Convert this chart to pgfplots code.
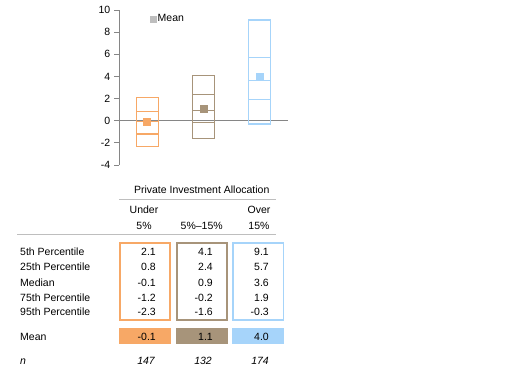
\documentclass[border=0pt]{standalone}
\usepackage{fontspec}
\setmainfont{Liberation Sans}
\usepackage{pgfplots}
\pgfplotsset{compat=1.18}
\definecolor{corange}{RGB}{247,168,102}
\definecolor{cbrown}{RGB}{167,148,122}
\definecolor{cblue}{RGB}{166,212,250}
\definecolor{axgray}{RGB}{134,134,134}
\definecolor{rulegray}{RGB}{190,190,190}
\definecolor{leggray}{RGB}{190,190,190}
\begin{document}
\fontsize{10.5}{12.6}\selectfont
\begin{tikzpicture}
\path[use as bounding box] (0pt,0pt) rectangle (515pt,-381pt);
\begin{axis}[
  at={(119pt,-165pt)}, anchor=south west,
  scale only axis, width=169pt, height=155pt,
  xmin=0.5, xmax=3.5, ymin=-4, ymax=10,
  axis x line=none, axis y line*=left,
  y axis line style={axgray, line width=0.8pt, -},
  ytick={-4,-2,0,2,4,6,8,10},
  yticklabels={-4,-2,0,2,4,6,8,10},
  tick align=outside, major tick length=5pt,
  ytick style={axgray, line width=0.8pt},
  yticklabel style={font=\fontsize{10.5}{12}\selectfont, text=black},
  clip=false,
  legend style={at={(axis cs:1.05,9.19)}, anchor=west, draw=none, fill=none,
    font=\fontsize{10.5}{12}\selectfont, inner sep=0pt,
    nodes={inner sep=1.5pt}},
  legend image code/.code={\draw[#1] plot coordinates {(3pt,0pt)};},
]
% zero line
\addplot[axgray, line width=0.8pt, forget plot] coordinates {(0.5,0) (3.5,0)};
% Under 5%: 5th=2.1, 25th=0.8, median=-0.1, 75th=-1.2, 95th=-2.3
\addplot[corange, line width=1.1pt, line cap=rect, forget plot] coordinates {(0.805,-2.3) (1.195,-2.3) (1.195,2.1) (0.805,2.1) (0.805,-2.3)};
\addplot[corange, line width=1.1pt, forget plot] coordinates {(0.805,0.8) (1.195,0.8)};
\addplot[corange, line width=1.1pt, forget plot] coordinates {(0.805,-0.1) (1.195,-0.1)};
\addplot[corange, line width=1.1pt, forget plot] coordinates {(0.805,-1.2) (1.195,-1.2)};
% 5%-15%: 4.1, 2.4, 0.9, -0.2, -1.6
\addplot[cbrown, line width=1.1pt, line cap=rect, forget plot] coordinates {(1.805,-1.6) (2.195,-1.6) (2.195,4.1) (1.805,4.1) (1.805,-1.6)};
\addplot[cbrown, line width=1.1pt, forget plot] coordinates {(1.805,2.4) (2.195,2.4)};
\addplot[cbrown, line width=1.1pt, forget plot] coordinates {(1.805,0.9) (2.195,0.9)};
\addplot[cbrown, line width=1.1pt, forget plot] coordinates {(1.805,-0.2) (2.195,-0.2)};
% Over 15%: 9.1, 5.7, 3.6, 1.9, -0.3
\addplot[cblue, line width=1.1pt, line cap=rect, forget plot] coordinates {(2.805,-0.3) (3.195,-0.3) (3.195,9.1) (2.805,9.1) (2.805,-0.3)};
\addplot[cblue, line width=1.1pt, forget plot] coordinates {(2.805,5.7) (3.195,5.7)};
\addplot[cblue, line width=1.1pt, forget plot] coordinates {(2.805,3.6) (3.195,3.6)};
\addplot[cblue, line width=1.1pt, forget plot] coordinates {(2.805,1.9) (3.195,1.9)};
% means
\addplot[only marks, mark=square*, mark size=3.5pt, color=corange, forget plot] coordinates {(1,-0.1)};
\addplot[only marks, mark=square*, mark size=3.5pt, color=cbrown, forget plot] coordinates {(2,1.1)};
\addplot[only marks, mark=square*, mark size=3.5pt, color=cblue, forget plot] coordinates {(3,4.0)};
\addlegendimage{only marks, mark=square*, mark size=3pt, color=leggray}
\addlegendentry{Mean}
\end{axis}
% table
\node[anchor=base, inner sep=0pt] at (201.7pt,-193.8pt) {Private Investment Allocation};
\draw[rulegray, line width=1pt] (119pt,-199.3pt) -- (276pt,-199.3pt);
\node[anchor=base, inner sep=0pt] at (144pt,-213.8pt) {Under};
\node[anchor=base, inner sep=0pt] at (144pt,-229.5pt) {5\%};
\node[anchor=base, inner sep=0pt] at (201.7pt,-229.5pt) {5\%–15\%};
\node[anchor=base, inner sep=0pt] at (259pt,-213.8pt) {Over};
\node[anchor=base, inner sep=0pt] at (259pt,-229.5pt) {15\%};
\draw[rulegray, line width=1pt] (17pt,-234.3pt) -- (276pt,-234.3pt);
% boxes
\draw[corange, line width=1.8pt] (119.6pt,-242.6pt) rectangle (169.8pt,-319.8pt);
\draw[cbrown, line width=1.8pt] (176.6pt,-242.6pt) rectangle (226.8pt,-319.8pt);
\draw[cblue, line width=1.8pt] (233.2pt,-242.6pt) rectangle (283.4pt,-319.8pt);
\fill[corange] (118.7pt,-328.3pt) rectangle (170.7pt,-344.3pt);
\fill[cbrown] (175.7pt,-328.3pt) rectangle (227.7pt,-344.3pt);
\fill[cblue] (232.3pt,-328.3pt) rectangle (284.3pt,-344.3pt);
% row labels
\foreach \lab/\yy in {5th Percentile/255, 25th Percentile/270.5, Median/286, 75th Percentile/301.8, 95th Percentile/315.8, Mean/340.5}
  \node[anchor=base west, inner sep=0pt] at (20pt,-\yy pt) {\lab};
\node[anchor=base west, inner sep=0pt] at (20pt,-364.5pt) {\itshape n};
% values
\foreach \a/\b/\c/\yy in {2.1/4.1/9.1/255, 0.8/2.4/5.7/270.5, -0.1/0.9/3.6/286, -1.2/-0.2/1.9/301.8, -2.3/-1.6/-0.3/315.8, -0.1/1.1/4.0/340.5}{
  \node[anchor=base east, inner sep=0pt] at (156pt,-\yy pt) {\a};
  \node[anchor=base east, inner sep=0pt] at (213pt,-\yy pt) {\b};
  \node[anchor=base east, inner sep=0pt] at (269pt,-\yy pt) {\c};
}
\node[anchor=base east, inner sep=0pt] at (155pt,-364.5pt) {\itshape 147};
\node[anchor=base east, inner sep=0pt] at (212pt,-364.5pt) {\itshape 132};
\node[anchor=base east, inner sep=0pt] at (269pt,-364.5pt) {\itshape 174};
\end{tikzpicture}
\end{document}
